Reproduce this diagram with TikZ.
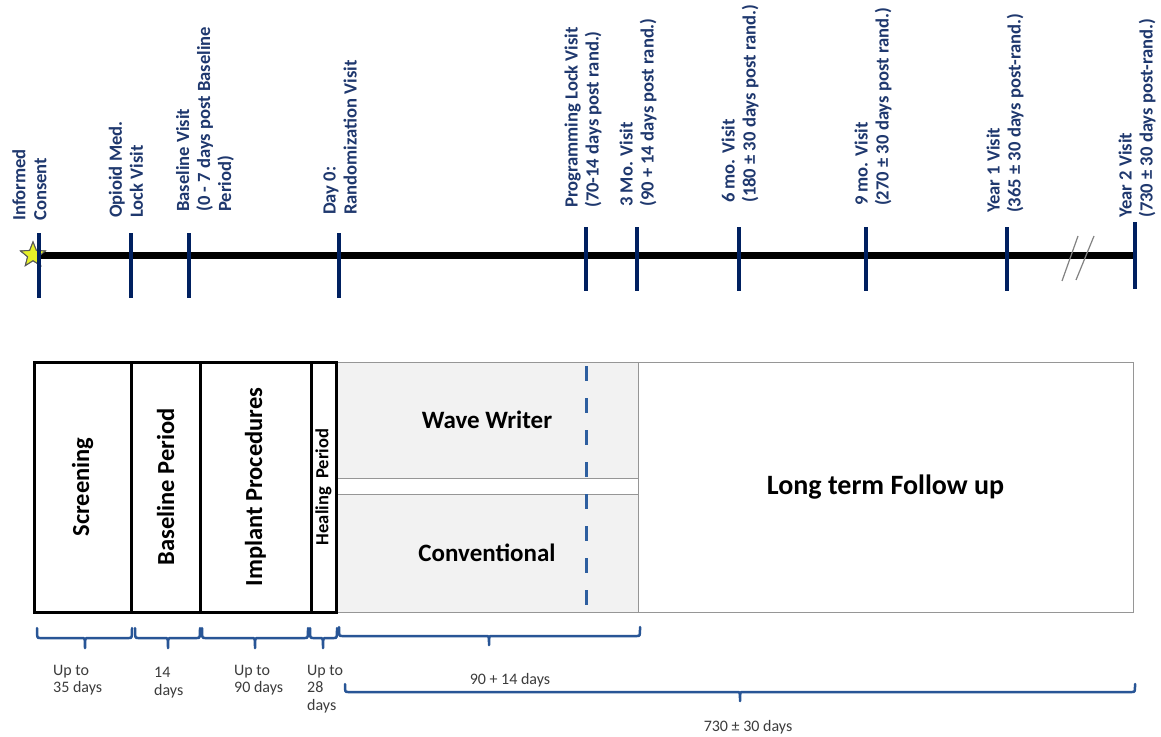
\documentclass[tikz,border=0pt]{standalone}
\usepackage{fontspec}
\setmainfont{Carlito}
\usetikzlibrary{shapes.geometric}
\definecolor{navy}{RGB}{0,32,96}
\definecolor{labelblue}{RGB}{31,56,110}
\definecolor{bracecol}{RGB}{40,85,150}
\definecolor{dashblue}{RGB}{46,95,160}
\definecolor{armfill}{RGB}{242,242,242}
\definecolor{armline}{RGB}{150,150,150}
\definecolor{durtext}{RGB}{60,60,60}
\definecolor{starfill}{RGB}{230,240,40}
\definecolor{breakgray}{RGB}{130,130,130}
\newcommand{\durbrace}[6]{\draw[bracestyle] (#1,#4) .. controls (#1,#5) .. (#1+3,#5) -- (#3-3,#5) .. controls (#3,#5) .. (#3,#6) .. controls (#3,#5) .. (#3+3,#5) -- (#2-3,#5) .. controls (#2,#5) .. (#2,#4);}
\begin{document}
\begin{tikzpicture}[x=1pt,y=-1pt,
  vlabel/.style={rotate=90, anchor=west, inner sep=0pt, align=left, text=labelblue, font=\fontsize{18.6}{21}\selectfont\bfseries},
  tickmark/.style={draw=navy, line width=4pt},
  phasebox/.style={draw=black, line width=3pt, inner sep=0pt, outer sep=0pt, rotate=90, font=\fontsize{24.5}{28}\selectfont\bfseries},
  armbox/.style={draw=armline, line width=1pt, fill=armfill, inner sep=0pt, outer sep=0pt, font=\fontsize{25}{28}\selectfont\bfseries},
  bracestyle/.style={draw=bracecol, line width=2.5pt, line cap=round, line join=round},
  durlabel/.style={inner sep=0pt, align=left, text=durtext, font=\fontsize{16}{17.5}\selectfont},
  starmark/.style={star, star points=5, star point ratio=2.3, fill=starfill, draw=black!65, line width=1pt, minimum size=26pt, inner sep=0pt},
]
\useasboundingbox[fill=white] (0,0) rectangle (1161,736);

% timeline
\node[starmark] (star) at (33,255) {};
\coordinate (tend) at (1137,255);
\draw[line width=7pt, black] (star.center) -- (tend);
\node[starmark] at (star.center) {};
\draw[tickmark] (39,233) -- (39,298);
\draw[tickmark] (131,233) -- (131,298);
\draw[tickmark] (189,233) -- (189,298);
\draw[tickmark] (339,233) -- (339,298);
\draw[tickmark] (586,227) -- (586,291);
\draw[tickmark] (637,227) -- (637,291);
\draw[tickmark] (739,227) -- (739,291);
\draw[tickmark] (866,227) -- (866,291);
\draw[tickmark] (1007,227) -- (1007,291);
\draw[tickmark] (1135,222) -- (1135,289);
\draw[breakgray, line width=1.2pt] (1062,281) -- (1078,236);
\draw[breakgray, line width=1.2pt] (1076,280) -- (1094,236);

% visit labels
\node[vlabel] (lic) at (29.5,221) {Informed\\Consent};
\node[vlabel] (lop) at (126,218) {Opioid Med.\\Lock Visit};
\node[vlabel] (lbv) at (205,212) {Baseline Visit\\(0 - 7 days post Baseline\\Period)};
\node[vlabel] (ld0) at (340,215) {Day 0:\\Randomization Visit};
\node[vlabel] (lpl) at (583,208) {Programming Lock Visit\\(70-14 days post rand.)};
\node[vlabel] (l3m) at (638,207) {3 Mo. Visit\\(90 + 14 days post rand.)};
\node[vlabel] (l6m) at (740,203) {6 mo. Visit\\(180 ± 30 days post rand.)};
\node[vlabel] (l9m) at (873,206) {9 mo. Visit\\(270 ± 30 days post rand.)};
\node[vlabel] (ly1) at (1005,213) {Year 1 Visit\\(365 ± 30 days post-rand.)};
\node[vlabel] (ly2) at (1137,218) {Year 2 Visit\\(730 ± 30 days post-rand.)};

% study boxes
\node[armbox, fill=white, minimum width=495pt, minimum height=250pt, font=\fontsize{28}{32}\selectfont\bfseries] (ltfu) at (885.5,487) {Long term Follow up};
\node[armbox, minimum width=302pt, minimum height=116pt] (ww) at (487,420) {Wave Writer};
\node[armbox, minimum width=302pt, minimum height=118pt] (conv) at (487,553) {Conventional};
\coordinate (dtop) at (586,366);
\coordinate (dbot) at (586,608);
\draw[dashblue, line width=3pt, dash pattern=on 15pt off 17pt] (dtop) -- (dbot);
\node[phasebox, minimum width=250pt, minimum height=97pt] (screen) at (82.5,487) {Screening};
\node[phasebox, minimum width=250pt, minimum height=69pt] (base) at (165.5,487) {Baseline Period};
\node[phasebox, minimum width=250pt, minimum height=111pt] (impl) at (255.5,487) {Implant Procedures};
\node[phasebox, minimum width=250pt, minimum height=25pt, font=\fontsize{18.5}{20}\selectfont\bfseries] (heal) at (323.5,487) {Healing\ \ Period};

% duration braces
\durbrace{37}{132}{85}{628}{638}{648}
\durbrace{135}{200}{168}{628}{638}{648}
\durbrace{202}{308}{255}{628}{638}{648}
\durbrace{310}{337}{323}{628}{638}{648}
\durbrace{339}{640}{489}{627}{636}{645}
\durbrace{345}{1135}{740}{684}{692}{701}

% duration labels
\node[durlabel, anchor=north west] (d1) at (53,665) {Up to\\35 days};
\node[durlabel, anchor=north west] (d2) at (154,667) {14\\days};
\node[durlabel, anchor=north west] (d3) at (234,665) {Up to\\90 days};
\node[durlabel, anchor=north west] (d4) at (307,665) {Up to\\28\\days};
\node[durlabel] (d5) at (510,680) {90 + 14 days};
\node[durlabel] (d6) at (748,727) {730 ± 30 days};
\end{tikzpicture}
\end{document}
